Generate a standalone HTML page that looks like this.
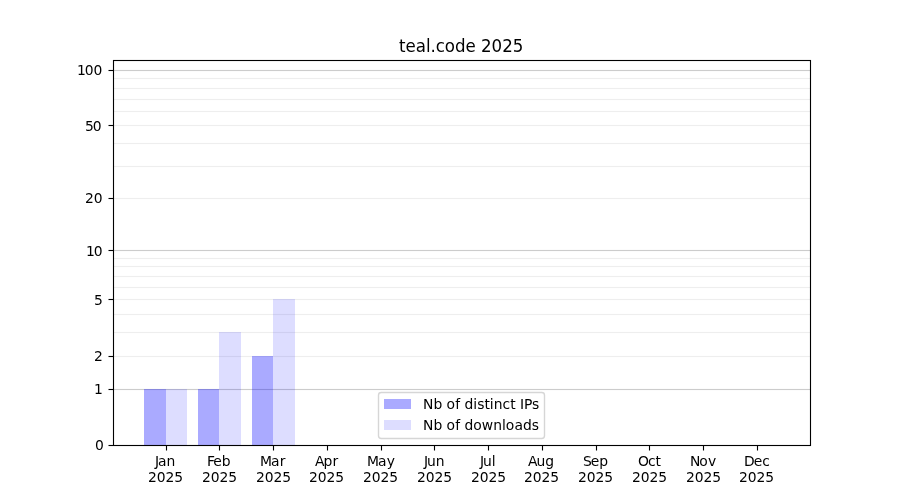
<!DOCTYPE html>
<html lang="en"><head><meta charset="utf-8"><title>teal.code 2025</title>
<style>
html,body{margin:0;padding:0;background:#fff;}
body{width:900px;height:500px;overflow:hidden;}
svg{display:block;}
text{font-family:"DejaVu Sans","Liberation Sans",sans-serif;fill:#000;font-size:13.889px;}
.t{font-size:16.667px;}
.c{shape-rendering:crispEdges;}
</style></head><body>
<svg width="900" height="500" viewBox="0 0 900 500">
<rect width="900" height="500" fill="#fff"/>
<g class="c">
<rect x="114" y="388" width="696" height="1" fill="#fcfcfc"/>
<rect x="114" y="389" width="696" height="1" fill="#cccccc"/>
<rect x="114" y="390" width="696" height="1" fill="#fcfcfc"/>
<rect x="114" y="249" width="696" height="1" fill="#fcfcfc"/>
<rect x="114" y="250" width="696" height="1" fill="#cccccc"/>
<rect x="114" y="251" width="696" height="1" fill="#fcfcfc"/>
<rect x="114" y="69" width="696" height="1" fill="#fcfcfc"/>
<rect x="114" y="70" width="696" height="1" fill="#cccccc"/>
<rect x="114" y="71" width="696" height="1" fill="#fcfcfc"/>
<rect x="114" y="355" width="696" height="1" fill="#fefefe"/>
<rect x="114" y="356" width="696" height="1" fill="#eeeeee"/>
<rect x="114" y="357" width="696" height="1" fill="#fefefe"/>
<rect x="114" y="331" width="696" height="1" fill="#fefefe"/>
<rect x="114" y="332" width="696" height="1" fill="#eeeeee"/>
<rect x="114" y="333" width="696" height="1" fill="#fefefe"/>
<rect x="114" y="313" width="696" height="1" fill="#fefefe"/>
<rect x="114" y="314" width="696" height="1" fill="#eeeeee"/>
<rect x="114" y="315" width="696" height="1" fill="#fefefe"/>
<rect x="114" y="298" width="696" height="1" fill="#fefefe"/>
<rect x="114" y="299" width="696" height="1" fill="#eeeeee"/>
<rect x="114" y="300" width="696" height="1" fill="#fefefe"/>
<rect x="114" y="286" width="696" height="1" fill="#fefefe"/>
<rect x="114" y="287" width="696" height="1" fill="#eeeeee"/>
<rect x="114" y="288" width="696" height="1" fill="#fefefe"/>
<rect x="114" y="275" width="696" height="1" fill="#fefefe"/>
<rect x="114" y="276" width="696" height="1" fill="#eeeeee"/>
<rect x="114" y="277" width="696" height="1" fill="#fefefe"/>
<rect x="114" y="265" width="696" height="1" fill="#fefefe"/>
<rect x="114" y="266" width="696" height="1" fill="#eeeeee"/>
<rect x="114" y="267" width="696" height="1" fill="#fefefe"/>
<rect x="114" y="257" width="696" height="1" fill="#fefefe"/>
<rect x="114" y="258" width="696" height="1" fill="#eeeeee"/>
<rect x="114" y="259" width="696" height="1" fill="#fefefe"/>
<rect x="114" y="197" width="696" height="1" fill="#fefefe"/>
<rect x="114" y="198" width="696" height="1" fill="#eeeeee"/>
<rect x="114" y="199" width="696" height="1" fill="#fefefe"/>
<rect x="114" y="165" width="696" height="1" fill="#fefefe"/>
<rect x="114" y="166" width="696" height="1" fill="#eeeeee"/>
<rect x="114" y="167" width="696" height="1" fill="#fefefe"/>
<rect x="114" y="142" width="696" height="1" fill="#fefefe"/>
<rect x="114" y="143" width="696" height="1" fill="#eeeeee"/>
<rect x="114" y="144" width="696" height="1" fill="#fefefe"/>
<rect x="114" y="124" width="696" height="1" fill="#fefefe"/>
<rect x="114" y="125" width="696" height="1" fill="#eeeeee"/>
<rect x="114" y="126" width="696" height="1" fill="#fefefe"/>
<rect x="114" y="110" width="696" height="1" fill="#fefefe"/>
<rect x="114" y="111" width="696" height="1" fill="#eeeeee"/>
<rect x="114" y="112" width="696" height="1" fill="#fefefe"/>
<rect x="114" y="98" width="696" height="1" fill="#fefefe"/>
<rect x="114" y="99" width="696" height="1" fill="#eeeeee"/>
<rect x="114" y="100" width="696" height="1" fill="#fefefe"/>
<rect x="114" y="87" width="696" height="1" fill="#fefefe"/>
<rect x="114" y="88" width="696" height="1" fill="#eeeeee"/>
<rect x="114" y="89" width="696" height="1" fill="#fefefe"/>
<rect x="114" y="77" width="696" height="1" fill="#fefefe"/>
<rect x="114" y="78" width="696" height="1" fill="#eeeeee"/>
<rect x="114" y="79" width="696" height="1" fill="#fefefe"/>
<rect x="144" y="389" width="22" height="56" fill="#0000ff" fill-opacity="0.3333"/>
<rect x="198" y="389" width="21" height="56" fill="#0000ff" fill-opacity="0.3333"/>
<rect x="252" y="356" width="21" height="89" fill="#0000ff" fill-opacity="0.3333"/>
<rect x="166" y="389" width="21" height="56" fill="#0000ff" fill-opacity="0.1333"/>
<rect x="219" y="332" width="22" height="113" fill="#0000ff" fill-opacity="0.1333"/>
<rect x="273" y="299" width="22" height="146" fill="#0000ff" fill-opacity="0.1333"/>
<rect x="112" y="60" width="1" height="386" fill="#000" fill-opacity="0.055"/>
<rect x="114" y="60" width="1" height="386" fill="#000" fill-opacity="0.055"/>
<rect x="809" y="60" width="1" height="386" fill="#000" fill-opacity="0.055"/>
<rect x="811" y="60" width="1" height="386" fill="#000" fill-opacity="0.055"/>
<rect x="113" y="59" width="698" height="1" fill="#000" fill-opacity="0.055"/>
<rect x="113" y="61" width="698" height="1" fill="#000" fill-opacity="0.055"/>
<rect x="113" y="444" width="698" height="1" fill="#000" fill-opacity="0.055"/>
<rect x="113" y="446" width="698" height="1" fill="#000" fill-opacity="0.055"/>
<rect x="165" y="446" width="1" height="4" fill="#000" fill-opacity="0.055"/>
<rect x="167" y="446" width="1" height="4" fill="#000" fill-opacity="0.055"/>
<rect x="165" y="450" width="1" height="1" fill="#000" fill-opacity="0.0275"/>
<rect x="167" y="450" width="1" height="1" fill="#000" fill-opacity="0.0275"/>
<rect x="218" y="446" width="1" height="4" fill="#000" fill-opacity="0.055"/>
<rect x="220" y="446" width="1" height="4" fill="#000" fill-opacity="0.055"/>
<rect x="218" y="450" width="1" height="1" fill="#000" fill-opacity="0.0275"/>
<rect x="220" y="450" width="1" height="1" fill="#000" fill-opacity="0.0275"/>
<rect x="272" y="446" width="1" height="4" fill="#000" fill-opacity="0.055"/>
<rect x="274" y="446" width="1" height="4" fill="#000" fill-opacity="0.055"/>
<rect x="272" y="450" width="1" height="1" fill="#000" fill-opacity="0.0275"/>
<rect x="274" y="450" width="1" height="1" fill="#000" fill-opacity="0.0275"/>
<rect x="326" y="446" width="1" height="4" fill="#000" fill-opacity="0.055"/>
<rect x="328" y="446" width="1" height="4" fill="#000" fill-opacity="0.055"/>
<rect x="326" y="450" width="1" height="1" fill="#000" fill-opacity="0.0275"/>
<rect x="328" y="450" width="1" height="1" fill="#000" fill-opacity="0.0275"/>
<rect x="380" y="446" width="1" height="4" fill="#000" fill-opacity="0.055"/>
<rect x="382" y="446" width="1" height="4" fill="#000" fill-opacity="0.055"/>
<rect x="380" y="450" width="1" height="1" fill="#000" fill-opacity="0.0275"/>
<rect x="382" y="450" width="1" height="1" fill="#000" fill-opacity="0.0275"/>
<rect x="433" y="446" width="1" height="4" fill="#000" fill-opacity="0.055"/>
<rect x="435" y="446" width="1" height="4" fill="#000" fill-opacity="0.055"/>
<rect x="433" y="450" width="1" height="1" fill="#000" fill-opacity="0.0275"/>
<rect x="435" y="450" width="1" height="1" fill="#000" fill-opacity="0.0275"/>
<rect x="487" y="446" width="1" height="4" fill="#000" fill-opacity="0.055"/>
<rect x="489" y="446" width="1" height="4" fill="#000" fill-opacity="0.055"/>
<rect x="487" y="450" width="1" height="1" fill="#000" fill-opacity="0.0275"/>
<rect x="489" y="450" width="1" height="1" fill="#000" fill-opacity="0.0275"/>
<rect x="541" y="446" width="1" height="4" fill="#000" fill-opacity="0.055"/>
<rect x="543" y="446" width="1" height="4" fill="#000" fill-opacity="0.055"/>
<rect x="541" y="450" width="1" height="1" fill="#000" fill-opacity="0.0275"/>
<rect x="543" y="450" width="1" height="1" fill="#000" fill-opacity="0.0275"/>
<rect x="595" y="446" width="1" height="4" fill="#000" fill-opacity="0.055"/>
<rect x="597" y="446" width="1" height="4" fill="#000" fill-opacity="0.055"/>
<rect x="595" y="450" width="1" height="1" fill="#000" fill-opacity="0.0275"/>
<rect x="597" y="450" width="1" height="1" fill="#000" fill-opacity="0.0275"/>
<rect x="648" y="446" width="1" height="4" fill="#000" fill-opacity="0.055"/>
<rect x="650" y="446" width="1" height="4" fill="#000" fill-opacity="0.055"/>
<rect x="648" y="450" width="1" height="1" fill="#000" fill-opacity="0.0275"/>
<rect x="650" y="450" width="1" height="1" fill="#000" fill-opacity="0.0275"/>
<rect x="702" y="446" width="1" height="4" fill="#000" fill-opacity="0.055"/>
<rect x="704" y="446" width="1" height="4" fill="#000" fill-opacity="0.055"/>
<rect x="702" y="450" width="1" height="1" fill="#000" fill-opacity="0.0275"/>
<rect x="704" y="450" width="1" height="1" fill="#000" fill-opacity="0.0275"/>
<rect x="756" y="446" width="1" height="4" fill="#000" fill-opacity="0.055"/>
<rect x="758" y="446" width="1" height="4" fill="#000" fill-opacity="0.055"/>
<rect x="756" y="450" width="1" height="1" fill="#000" fill-opacity="0.0275"/>
<rect x="758" y="450" width="1" height="1" fill="#000" fill-opacity="0.0275"/>
<rect x="109" y="444" width="4" height="1" fill="#000" fill-opacity="0.055"/>
<rect x="108" y="444" width="1" height="1" fill="#000" fill-opacity="0.0275"/>
<rect x="109" y="446" width="4" height="1" fill="#000" fill-opacity="0.055"/>
<rect x="108" y="446" width="1" height="1" fill="#000" fill-opacity="0.0275"/>
<rect x="109" y="388" width="4" height="1" fill="#000" fill-opacity="0.055"/>
<rect x="108" y="388" width="1" height="1" fill="#000" fill-opacity="0.0275"/>
<rect x="109" y="390" width="4" height="1" fill="#000" fill-opacity="0.055"/>
<rect x="108" y="390" width="1" height="1" fill="#000" fill-opacity="0.0275"/>
<rect x="109" y="355" width="4" height="1" fill="#000" fill-opacity="0.055"/>
<rect x="108" y="355" width="1" height="1" fill="#000" fill-opacity="0.0275"/>
<rect x="109" y="357" width="4" height="1" fill="#000" fill-opacity="0.055"/>
<rect x="108" y="357" width="1" height="1" fill="#000" fill-opacity="0.0275"/>
<rect x="109" y="298" width="4" height="1" fill="#000" fill-opacity="0.055"/>
<rect x="108" y="298" width="1" height="1" fill="#000" fill-opacity="0.0275"/>
<rect x="109" y="300" width="4" height="1" fill="#000" fill-opacity="0.055"/>
<rect x="108" y="300" width="1" height="1" fill="#000" fill-opacity="0.0275"/>
<rect x="109" y="249" width="4" height="1" fill="#000" fill-opacity="0.055"/>
<rect x="108" y="249" width="1" height="1" fill="#000" fill-opacity="0.0275"/>
<rect x="109" y="251" width="4" height="1" fill="#000" fill-opacity="0.055"/>
<rect x="108" y="251" width="1" height="1" fill="#000" fill-opacity="0.0275"/>
<rect x="109" y="197" width="4" height="1" fill="#000" fill-opacity="0.055"/>
<rect x="108" y="197" width="1" height="1" fill="#000" fill-opacity="0.0275"/>
<rect x="109" y="199" width="4" height="1" fill="#000" fill-opacity="0.055"/>
<rect x="108" y="199" width="1" height="1" fill="#000" fill-opacity="0.0275"/>
<rect x="109" y="124" width="4" height="1" fill="#000" fill-opacity="0.055"/>
<rect x="108" y="124" width="1" height="1" fill="#000" fill-opacity="0.0275"/>
<rect x="109" y="126" width="4" height="1" fill="#000" fill-opacity="0.055"/>
<rect x="108" y="126" width="1" height="1" fill="#000" fill-opacity="0.0275"/>
<rect x="109" y="69" width="4" height="1" fill="#000" fill-opacity="0.055"/>
<rect x="108" y="69" width="1" height="1" fill="#000" fill-opacity="0.0275"/>
<rect x="109" y="71" width="4" height="1" fill="#000" fill-opacity="0.055"/>
<rect x="108" y="71" width="1" height="1" fill="#000" fill-opacity="0.0275"/>
<rect x="166" y="445" width="1" height="5" fill="#000"/>
<rect x="166" y="450" width="1" height="1" fill="#7f7f7f"/>
<rect x="219" y="445" width="1" height="5" fill="#000"/>
<rect x="219" y="450" width="1" height="1" fill="#7f7f7f"/>
<rect x="273" y="445" width="1" height="5" fill="#000"/>
<rect x="273" y="450" width="1" height="1" fill="#7f7f7f"/>
<rect x="327" y="445" width="1" height="5" fill="#000"/>
<rect x="327" y="450" width="1" height="1" fill="#7f7f7f"/>
<rect x="381" y="445" width="1" height="5" fill="#000"/>
<rect x="381" y="450" width="1" height="1" fill="#7f7f7f"/>
<rect x="434" y="445" width="1" height="5" fill="#000"/>
<rect x="434" y="450" width="1" height="1" fill="#7f7f7f"/>
<rect x="488" y="445" width="1" height="5" fill="#000"/>
<rect x="488" y="450" width="1" height="1" fill="#7f7f7f"/>
<rect x="542" y="445" width="1" height="5" fill="#000"/>
<rect x="542" y="450" width="1" height="1" fill="#7f7f7f"/>
<rect x="596" y="445" width="1" height="5" fill="#000"/>
<rect x="596" y="450" width="1" height="1" fill="#7f7f7f"/>
<rect x="649" y="445" width="1" height="5" fill="#000"/>
<rect x="649" y="450" width="1" height="1" fill="#7f7f7f"/>
<rect x="703" y="445" width="1" height="5" fill="#000"/>
<rect x="703" y="450" width="1" height="1" fill="#7f7f7f"/>
<rect x="757" y="445" width="1" height="5" fill="#000"/>
<rect x="757" y="450" width="1" height="1" fill="#7f7f7f"/>
<rect x="109" y="445" width="4" height="1" fill="#000"/>
<rect x="108" y="445" width="1" height="1" fill="#7f7f7f"/>
<rect x="109" y="389" width="4" height="1" fill="#000"/>
<rect x="108" y="389" width="1" height="1" fill="#7f7f7f"/>
<rect x="109" y="356" width="4" height="1" fill="#000"/>
<rect x="108" y="356" width="1" height="1" fill="#7f7f7f"/>
<rect x="109" y="299" width="4" height="1" fill="#000"/>
<rect x="108" y="299" width="1" height="1" fill="#7f7f7f"/>
<rect x="109" y="250" width="4" height="1" fill="#000"/>
<rect x="108" y="250" width="1" height="1" fill="#7f7f7f"/>
<rect x="109" y="198" width="4" height="1" fill="#000"/>
<rect x="108" y="198" width="1" height="1" fill="#7f7f7f"/>
<rect x="109" y="125" width="4" height="1" fill="#000"/>
<rect x="108" y="125" width="1" height="1" fill="#7f7f7f"/>
<rect x="109" y="70" width="4" height="1" fill="#000"/>
<rect x="108" y="70" width="1" height="1" fill="#7f7f7f"/>
<rect x="113" y="60" width="1" height="386" fill="#000"/>
<rect x="810" y="60" width="1" height="386" fill="#000"/>
<rect x="113" y="60" width="698" height="1" fill="#000"/>
<rect x="113" y="445" width="698" height="1" fill="#000"/>
</g>
<rect x="378.5" y="392.5" width="166" height="46" rx="2.8" ry="2.8" fill="#fff" fill-opacity="0.8" stroke="#cccccc" stroke-opacity="0.8" stroke-width="1.389"/>
<g class="c">
<rect x="384" y="399" width="27" height="10" fill="#aaaaff"/>
<rect x="384" y="420" width="27" height="10" fill="#ddddff"/>
</g>
<text x="423.00 433.38 442.17 446.59 455.33 459.97 464.38 473.19 477.28 484.52 489.70 493.81 502.61 510.23 515.42 520.08 523.92 532.05" y="409">Nb of distinct IPs</text>
<text x="423.00 433.38 442.17 446.59 455.33 459.97 464.38 473.19 481.67 493.27 502.06 505.67 514.41 522.91 531.72" y="430">Nb of downloads</text>
<text class="t" transform="translate(0 52) scale(1 1.08)" x="398.89 405.41 415.66 426.11 430.48 435.78 444.69 455.12 465.44 475.68 480.97 491.56 502.16 512.76" y="0">teal.code 2025</text>
<text x="94.95" y="450">0</text>
<text x="93.95" y="394">1</text>
<text x="93.95" y="361">2</text>
<text x="93.95" y="305">5</text>
<text x="86.12 93.69" y="256">10</text>
<text x="85.12 93.69" y="203">20</text>
<text x="85.12 92.69" y="131">50</text>
<text x="77.05 84.86 93.44" y="75">100</text>
<text x="155.00 158.08 166.60" y="466">Jan</text>
<text x="148.04 156.86 165.43 174.26" y="482">2025</text>
<text x="206.90 213.37 221.65" y="466">Feb</text>
<text x="202.03 210.85 219.42 228.25" y="482">2025</text>
<text x="260.08 271.05 279.80" y="466">Mar</text>
<text x="256.01 264.83 273.40 282.23" y="482">2025</text>
<text x="314.90 323.39 332.45" y="466">Apr</text>
<text x="309.00 317.82 326.39 335.22" y="482">2025</text>
<text x="367.06 378.02 386.77" y="466">May</text>
<text x="362.99 371.81 380.38 389.21" y="482">2025</text>
<text x="424.04 427.11 435.66" y="466">Jun</text>
<text x="416.97 425.79 434.61 443.19" y="482">2025</text>
<text x="479.99 483.07 491.87" y="466">Jul</text>
<text x="470.96 479.78 488.60 497.18" y="482">2025</text>
<text x="528.05 536.54 545.33" y="466">Aug</text>
<text x="523.94 532.76 541.58 550.16" y="482">2025</text>
<text x="583.01 590.81 599.36" y="466">Sep</text>
<text x="577.93 586.75 595.57 604.15" y="482">2025</text>
<text x="638.08 647.99 655.38" y="466">Oct</text>
<text x="631.92 640.74 649.56 658.14" y="482">2025</text>
<text x="690.01 699.14 708.12" y="466">Nov</text>
<text x="685.90 694.72 703.54 712.37" y="482">2025</text>
<text x="744.12 753.79 762.34" y="466">Dec</text>
<text x="738.89 747.71 756.53 765.36" y="482">2025</text>
</svg>
</body></html>
